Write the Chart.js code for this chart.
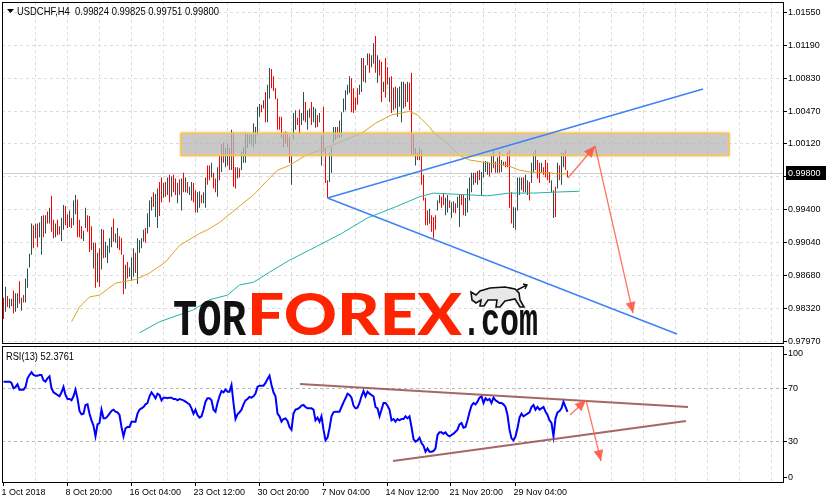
<!DOCTYPE html>
<html>
<head>
<meta charset="utf-8">
<title>USDCHF H4</title>
<script src="https://cdn.jsdelivr.net/npm/chart.js@4.4.1/dist/chart.umd.min.js"></script>
<style>
  html, body { margin: 0; padding: 0; background: #fff; }
  #wrap { position: relative; width: 826px; height: 504px; overflow: hidden; }
  canvas { position: absolute; left: 0; }
  #main { top: 0; }
  #rsi { top: 344px; }
  svg { position: absolute; left: 0; top: 0; pointer-events: none; }
</style>
</head>
<body>
<div id="wrap">
  <canvas id="main" width="826" height="344"></canvas>
  <canvas id="rsi" width="826" height="160"></canvas>
  <svg width="826" height="504" xmlns="http://www.w3.org/2000/svg">
    <polygon points="7,9 14,9 10.5,13" fill="#000"/>
    <text id="hdr" x="17" y="14.5" font-size="11" fill="#000" style="white-space:pre" textLength="202" lengthAdjust="spacingAndGlyphs">USDCHF,H4  0.99824 0.99825 0.99751 0.99800</text>
    <text id="rsihdr" x="6" y="359.5" font-size="11" fill="#000" textLength="68" lengthAdjust="spacingAndGlyphs">RSI(13) 52.3761</text>
    <g id="wm">
      <text x="173" y="335" font-family="Liberation Mono, DejaVu Sans Mono, monospace" font-weight="bold" font-size="52" fill="#111" textLength="73" lengthAdjust="spacingAndGlyphs">TOR</text>
      <text x="247" y="335" font-family="Lato, Roboto, Inter, sans-serif" font-weight="900" font-size="58" fill="#ff2400" textLength="215" lengthAdjust="spacingAndGlyphs">FOREX</text>
      <text x="462" y="335" font-family="Liberation Mono, DejaVu Sans Mono, monospace" font-weight="bold" font-size="46" fill="#111" textLength="76" lengthAdjust="spacingAndGlyphs">.com</text>
      <path d="M471,292 L476,295 L480,291 L490,288 L505,287 L515,289 L519,293 L520,300 L524,307 L520,307 L515,299 L505,301 L500,307 L496,307 L497,300 L488,300 L484,306 L480,306 L481,300 L476,303 L472,300 Z" fill="#e8e8e8" stroke="#111" stroke-width="1.6"/>
      <path d="M517,290 L527,285 M523,284 L527,285 L525,289" fill="none" stroke="#111" stroke-width="1.4"/>
    </g>
  </svg>
</div>
<script>
// USDCHF H4 bars, 1 Oct 2018 12:00 onward (index = bar number)
const highs = [0.9844,0.9856,0.9846,0.9843,0.9843,0.9852,0.9849,0.9849,0.9862,0.9844,
0.9847,0.9865,0.9876,0.9892,0.9925,0.9923,0.9925,0.9925,0.9926,0.9933,
0.9934,0.9934,0.9938,0.9942,0.9955,0.9929,0.9925,0.9929,0.9922,0.9931,
0.9945,0.9944,0.9935,0.9939,0.9931,0.9950,0.9956,0.9951,0.9929,0.9922,
0.9917,0.9942,0.9934,0.9933,0.9922,0.9904,0.9904,0.9893,0.9898,0.9919,
0.9918,0.9905,0.9901,0.9909,0.9921,0.9930,0.9914,0.9920,0.9911,0.9909,
0.9891,0.9880,0.9883,0.9877,0.9888,0.9898,0.9893,0.9909,0.9907,0.9909,
0.9918,0.9920,0.9936,0.9950,0.9954,0.9959,0.9957,0.9963,0.9970,0.9975,
0.9969,0.9970,0.9975,0.9978,0.9976,0.9978,0.9974,0.9969,0.9973,0.9974,
0.9980,0.9975,0.9970,0.9965,0.9970,0.9969,0.9961,0.9959,0.9960,0.9956,
0.9959,0.9975,0.9988,0.9988,0.9991,0.9980,0.9974,0.9986,0.9999,1.0011,
1.0013,1.0007,1.0012,1.0007,1.0027,1.0024,0.9986,0.9986,0.9985,1.0003,
1.0008,1.0024,1.0023,1.0022,1.0023,1.0034,1.0030,1.0052,1.0055,1.0054,
1.0059,1.0068,1.0076,1.0094,1.0093,1.0085,1.0072,1.0061,1.0041,1.0041,
1.0024,1.0025,1.0024,1.0019,0.9999,1.0045,1.0048,1.0040,1.0049,1.0045,
1.0068,1.0057,1.0048,1.0050,1.0057,1.0052,1.0050,1.0043,1.0045,1.0021,
1.0052,1.0007,0.9972,1.0002,1.0008,1.0030,1.0030,1.0030,1.0037,1.0046,
1.0061,1.0070,1.0076,1.0085,1.0083,1.0072,1.0062,1.0072,1.0076,1.0105,
1.0105,1.0097,1.0110,1.0110,1.0108,1.0121,1.0129,1.0108,1.0103,1.0101,
1.0079,1.0105,1.0095,1.0084,1.0085,1.0073,1.0074,1.0072,1.0074,1.0079,
1.0079,1.0077,1.0079,1.0078,1.0089,1.0023,1.0007,1.0002,1.0007,1.0005,
0.9978,0.9953,0.9939,0.9941,0.9934,0.9932,0.9934,0.9950,0.9956,0.9954,
0.9958,0.9953,0.9956,0.9950,0.9948,0.9949,0.9947,0.9954,0.9956,0.9956,
0.9956,0.9953,0.9963,0.9975,0.9980,0.9980,0.9980,0.9982,0.9983,0.9981,
0.9992,0.9993,0.9992,0.9991,0.9999,1.0005,0.9992,0.9997,1.0003,0.9994,
0.9992,0.9992,1.0003,1.0005,0.9959,0.9943,0.9942,0.9975,0.9975,0.9975,
0.9975,0.9978,0.9972,0.9970,0.9991,1.0002,1.0005,0.9994,0.9991,0.9991,
0.9986,0.9994,0.9991,0.9981,0.9972,0.9961,0.9965,0.9991,0.9988,1.0002,
1.0002,1.0005,0.99825];
const lows = [0.9821,0.9829,0.9834,0.9833,0.9835,0.9827,0.9829,0.9833,0.9838,0.9830,
0.9839,0.9839,0.9855,0.9877,0.9891,0.9898,0.9909,0.9899,0.9910,0.9891,
0.9910,0.9914,0.9925,0.9925,0.9916,0.9909,0.9910,0.9912,0.9913,0.9906,
0.9918,0.9923,0.9920,0.9921,0.9920,0.9923,0.9935,0.9910,0.9910,0.9908,
0.9906,0.9920,0.9916,0.9894,0.9896,0.9876,0.9855,0.9861,0.9856,0.9875,
0.9887,0.9888,0.9882,0.9893,0.9899,0.9905,0.9904,0.9898,0.9896,0.9891,
0.9848,0.9854,0.9865,0.9867,0.9863,0.9867,0.9871,0.9859,0.9893,0.9898,
0.9905,0.9904,0.9914,0.9921,0.9939,0.9943,0.9932,0.9920,0.9933,0.9948,
0.9953,0.9954,0.9956,0.9948,0.9954,0.9959,0.9956,0.9947,0.9956,0.9939,
0.9959,0.9959,0.9958,0.9956,0.9950,0.9948,0.9937,0.9937,0.9942,0.9947,
0.9947,0.9942,0.9967,0.9972,0.9975,0.9963,0.9959,0.9954,0.9972,0.9981,
0.9991,0.9986,0.9988,0.9983,0.9983,0.9965,0.9963,0.9974,0.9975,0.9983,
0.9991,0.9991,1.0007,1.0012,1.0010,1.0008,1.0012,1.0021,1.0041,1.0046,
1.0050,1.0035,1.0035,1.0061,1.0072,1.0069,1.0060,1.0027,1.0027,1.0018,
1.0008,1.0012,1.0008,0.9991,0.9967,1.0016,1.0027,1.0032,1.0023,1.0032,
1.0037,1.0035,1.0027,1.0040,1.0032,1.0035,1.0029,1.0030,1.0035,0.9988,
1.0003,0.9969,0.9953,0.9970,0.9980,1.0013,1.0016,1.0018,1.0018,1.0019,
1.0046,1.0048,1.0065,1.0067,1.0046,1.0045,1.0048,1.0054,1.0065,1.0068,
1.0079,1.0078,1.0097,1.0089,1.0095,1.0099,1.0089,1.0078,1.0086,1.0057,
1.0068,1.0062,1.0076,1.0057,1.0045,1.0048,1.0050,1.0041,1.0052,1.0035,
1.0050,1.0052,1.0057,1.0048,0.9999,0.9999,0.9988,0.9994,0.9994,0.9967,
0.9950,0.9923,0.9923,0.9925,0.9916,0.9909,0.9918,0.9939,0.9947,0.9942,
0.9945,0.9934,0.9937,0.9942,0.9931,0.9937,0.9936,0.9942,0.9921,0.9945,
0.9934,0.9933,0.9937,0.9950,0.9959,0.9967,0.9969,0.9967,0.9972,0.9956,
0.9975,0.9981,0.9978,0.9976,0.9980,0.9985,0.9980,0.9980,0.9980,0.9981,
0.9988,0.9986,0.9986,0.9942,0.9925,0.9920,0.9918,0.9939,0.9956,0.9961,
0.9959,0.9959,0.9956,0.9950,0.9969,0.9980,0.9983,0.9974,0.9969,0.9980,
0.9978,0.9975,0.9972,0.9969,0.9959,0.9931,0.9932,0.9963,0.9972,0.9967,
0.9986,0.9983,0.99751];
// 1 = bar closed up (dark), 0 = closed down (red)
const bull = [0,1,0,1,1,0,1,1,0,1, 0,1,1,1,1,0,1,0,1,1, 0,1,0,1,0,0,1,0,0,1, 1,0,0,1,0,1,1,0,0,0,
1,1,0,0,0,1,0,1,0,1, 0,1,1,1,1,0,1,1,0,0, 0,1,0,1,1,1,0,1,1,1, 1,0,1,1,1,0,1,1,0,0,
1,0,1,0,1,0,0,1,0,1, 0,1,0,1,1,0,0,1,1,0, 1,1,0,0,1,0,0,1,0,1, 0,1,1,0,1,0,0,1,0,1,
1,1,1,1,1,1,1,1,1,0, 1,0,1,1,0,0,0,0,0,0, 1,0,0,0,1,1,1,0,0,1, 1,0,1,1,0,1,1,0,1,1,
0,0,0,1,1,1,1,0,1,1, 1,1,1,1,0,0,0,0,1,1, 0,1,1,0,1,1,0,1,0,0, 1,0,0,1,0,1,0,1,1,1,
1,0,1,0,0,0,1,0,1,0, 0,0,0,1,0,0,0,1,1,0, 0,1,1,0,1,1,0,1,1,0, 0,1,1,1,1,1,0,1,0,1,
1,1,1,0,1,1,0,1,0,1, 1,0,0,0,0,1,1,1,1,1, 0,1,1,0,1,1,1,0,0,1, 0,0,0,0,1,1,0,1,0,1, 1,0,0];
// RSI(13), one value per bar
const rsi = [75,75,75,75,74,70,71,73,69,69, 69,71,77.5,80,82,80,79.5,79.5,80,80,
76,75,77.5,79,70,67,66,65,64,67, 71,65,62,62,61,64,69,62.5,53,50.5,
51,57.5,58,51,46,42,34,43,44,54, 47.5,47.5,49,51,53,54,52.5,52,50,41,
34,40,41,41,45,45,45,51,54,55, 56,58,59,64,67,65,62.5,66,65,61,
63,63,62.5,63,63,62,62,61,62,61.5, 61,60,59,58,55,51,54,50,48,49,
54,60,62.5,62.5,61,54,52.5,59,64,68, 67,69,67.5,67.5,72.5,59,47,50.5,52,54,
58,61,62,63.5,63,64,66,71,72,72, 72,74,77,79.5,72.5,67,64,51,49,45,
47,47.5,45.5,41,39,51,54,54.5,55.5,57, 57.5,56,55,55,55,54,46,48,45,49,
39,31,33,40,49,52,52.5,52.5,52.5,56, 59.5,62.5,66,65,63,57,55,55.5,59,64,
68,64,67.5,66,65,64,56,55,49,54, 59,59,57,54,46,47,45,47,46,47,
47,49,47.5,49,41,32,30,31,33,29, 27,22.5,25,22.5,22.5,23,25,35,37,37,
36,37,35,34,35,36,37.5,39,43,44, 40.5,41,46,52,57,59,58,60,63,64,
59,62.5,61,62,59,63,61,60,59,59, 58,56,50,39,32.5,31,34,40,48,51,
49,50,51,52,56,57.5,54,56,54,55, 56,52.5,50,46,44,34,47.5,52,53,55,
60,56,52.4];

// moving averages (bar index, price)
const maFastBar = [34,38,43,48,56,61,66,73,81,88,98,102,108,117,125,132,137,143,151,161,171,179,186,194,203,207,213,215,222,228,233,242,252,258,263,273,277,282];
const maFast = [0.9818,0.9834,0.9845,0.9847,0.9860,0.9862,0.9864,0.9871,0.9883,0.9901,0.9914,0.9918,0.9926,0.9942,0.9956,0.9972,0.9983,0.9988,0.9999,1.0007,1.0016,1.0023,1.0034,1.0043,1.0047,1.0043,1.0030,1.0024,1.0012,0.9999,0.9994,0.9991,0.9988,0.9983,0.9981,0.9980,0.9979,0.9979];
const maSlowBar = [68,78,95,103,112,118,125,128,133,143,153,169,182,196,208,215,233,242,253,265,275,288];
const maSlow = [0.9806,0.9818,0.9831,0.9842,0.9847,0.9858,0.9861,0.9865,0.9872,0.9885,0.9896,0.9914,0.9931,0.9943,0.9954,0.9958,0.9956,0.9955,0.9958,0.9958,0.9959,0.9960];

// drawn objects
const wedgeUpBar = [162, 349.75], wedgeUp = [0.99527, 1.00713];
const wedgeDnBar = [162, 336.75], wedgeDn = [0.99527, 0.98047];
const zoneBar = [88.75, 362.75], zonePrice = [1.0023, 0.9999];
const arrowBars = [[282.25, 295.75], [295.75, 314.75]];
const arrowPrices = [[0.99744, 1.00092], [1.00092, 0.98275]];
const rsiUpBar = [148.25, 342.25], rsiUp = [73.2, 56.0];
const rsiDnBar = [194.75, 341.25], rsiDn = [15.5, 45.5];
const rsiArrowBars = [[283.25, 291.25], [291.25, 298.75]];
const rsiArrowVals = [[50, 61.2], [61.2, 15.5]];
const bidPrice = 0.99800;

// axes
const priceTicks = [1.01550,1.01190,1.00830,1.00470,1.00120,0.99760,0.99400,0.99040,0.98680,0.98320,0.97970];
const timeLabels = ['1 Oct 2018','8 Oct 20:00','16 Oct 04:00','23 Oct 12:00','30 Oct 20:00','7 Nov 04:00','14 Nov 12:00','21 Nov 20:00','29 Nov 04:00'];
const rsiLevels = [0, 30, 70, 100];
const gridBars = [];
for (let j = 0; j <= 24; j++) gridBars.push(16 * j - 0.25);

function hasFont(f) {
  const c = document.createElement('canvas').getContext('2d');
  c.font = '20px monospace';
  const a = c.measureText('0.99824 USDCHF Oct').width;
  c.font = '20px "' + f + '", monospace';
  return c.measureText('0.99824 USDCHF Oct').width !== a;
}
const narrow = hasFont('Liberation Sans Narrow');
const axisFont = narrow ? { family: '"Liberation Sans Narrow"', size: 11 } : { family: '"Liberation Sans"', size: 9 };
document.getElementById('hdr').setAttribute('font-family', narrow ? 'Liberation Sans Narrow' : 'Liberation Sans');
document.getElementById('rsihdr').setAttribute('font-family', narrow ? 'Liberation Sans Narrow' : 'Liberation Sans');

const gridGray = '#dcdcdc';
const xMin = -0.75, xMax = 389.75;

function seg(xs, ys) { return xs.map((x, i) => ({ x: x, y: ys[i] })); }

function arrowHead(ctx, x0, y0, x1, y1, color) {
  const a = Math.atan2(y1 - y0, x1 - x0), len = 11, wid = 5;
  ctx.save();
  ctx.fillStyle = color;
  ctx.beginPath();
  ctx.moveTo(x1, y1);
  ctx.lineTo(x1 - len * Math.cos(a) + wid * Math.sin(a), y1 - len * Math.sin(a) - wid * Math.cos(a));
  ctx.lineTo(x1 - len * Math.cos(a) - wid * Math.sin(a), y1 - len * Math.sin(a) + wid * Math.cos(a));
  ctx.closePath();
  ctx.fill();
  ctx.restore();
}

const framePlugin = {
  id: 'frame',
  afterDraw(chart) {
    const a = chart.chartArea, ctx = chart.ctx;
    ctx.save();
    ctx.strokeStyle = '#000';
    ctx.lineWidth = 1;
    ctx.strokeRect(a.left + 0.5, a.top + 0.5, a.right - a.left, a.bottom - a.top);
    ctx.restore();
  }
};

const mainPlugin = {
  id: 'mainExtras',
  beforeDatasetsDraw(chart) {
    const ctx = chart.ctx, y = chart.scales.y, a = chart.chartArea;
    const py = Math.round(y.getPixelForValue(bidPrice)) + 0.5;
    ctx.save();
    ctx.strokeStyle = '#d0d0d0';
    ctx.beginPath(); ctx.moveTo(a.left, py); ctx.lineTo(a.right, py); ctx.stroke();
    ctx.restore();
  },
  afterDatasetDraw(chart, args) {
    if (chart.data.datasets[args.index].id !== 'maFast') return;
    const ctx = chart.ctx, x = chart.scales.x, y = chart.scales.y;
    const l = x.getPixelForValue(zoneBar[0]), r = x.getPixelForValue(zoneBar[1]);
    const t = y.getPixelForValue(zonePrice[0]), b = y.getPixelForValue(zonePrice[1]);
    ctx.save();
    ctx.shadowColor = 'rgba(0,0,0,0.25)';
    ctx.shadowBlur = 4;
    ctx.fillStyle = 'rgba(196,196,196,0.72)';
    ctx.fillRect(l, t, r - l, b - t);
    ctx.shadowBlur = 2;
    ctx.shadowColor = 'rgba(240,190,80,0.6)';
    ctx.strokeStyle = '#f3c45a';
    ctx.lineWidth = 1.5;
    ctx.strokeRect(l, t, r - l, b - t);
    ctx.restore();
  },
  afterDatasetsDraw(chart) {
    const ctx = chart.ctx, x = chart.scales.x, y = chart.scales.y;
    arrowBars.forEach((bx, i) => {
      arrowHead(ctx, x.getPixelForValue(bx[0]), y.getPixelForValue(arrowPrices[i][0]),
        x.getPixelForValue(bx[1]), y.getPixelForValue(arrowPrices[i][1]), 'rgba(255,90,70,0.9)');
    });
  },
  afterDraw(chart) {
    const ctx = chart.ctx, y = chart.scales.y, a = chart.chartArea;
    const py = Math.round(y.getPixelForValue(bidPrice));
    ctx.save();
    ctx.fillStyle = '#000';
    ctx.fillRect(a.right + 3, py - 7, 826 - a.right - 3, 14);
    ctx.fillStyle = '#fff';
    ctx.font = axisFont.size + 'px ' + axisFont.family;
    ctx.textBaseline = 'middle';
    ctx.fillText(bidPrice.toFixed(5), a.right + 5, py + 0.5);
    ctx.restore();
  }
};

const rsiPlugin = {
  id: 'rsiExtras',
  afterDatasetsDraw(chart) {
    const ctx = chart.ctx, x = chart.scales.x, y = chart.scales.y;
    rsiArrowBars.forEach((bx, i) => {
      arrowHead(ctx, x.getPixelForValue(bx[0]), y.getPixelForValue(rsiArrowVals[i][0]),
        x.getPixelForValue(bx[1]), y.getPixelForValue(rsiArrowVals[i][1]), 'rgba(255,90,70,0.9)');
    });
  }
};

function xScale(showLabels) {
  return {
    type: 'linear', min: xMin, max: xMax, offset: false,
    afterBuildTicks: s => { s.ticks = gridBars.map(v => ({ value: v })); },
    afterFit: s => { s.height = showLabels ? 22 : 0; s.paddingLeft = 0; s.paddingRight = 0; },
    ticks: {
      display: showLabels, autoSkip: false, maxRotation: 0, align: 'start', padding: 1, labelOffset: -1.5,
      color: '#000', font: axisFont,
      callback: (v, i) => (i % 2 === 0 && timeLabels[i / 2]) ? timeLabels[i / 2] : ''
    },
    grid: {
      offset: false,
      color: c => c.index === 0 ? 'rgba(0,0,0,0)' : gridGray,
      drawTicks: showLabels, tickLength: 4,
      tickColor: c => (c.index % 2 === 0 && c.index <= 16) ? '#000' : 'rgba(0,0,0,0)'
    },
    border: { display: false, dash: [3, 3] }
  };
}

Chart.defaults.font = axisFont;

new Chart(document.getElementById('main'), {
  type: 'bar',
  data: {
    datasets: [
      { id: 'wedgeUp', type: 'line', data: seg(wedgeUpBar, wedgeUp), borderColor: '#3f82f5', borderWidth: 1.5, pointRadius: 0, order: 3 },
      { id: 'wedgeDn', type: 'line', data: seg(wedgeDnBar, wedgeDn), borderColor: '#3f82f5', borderWidth: 1.5, pointRadius: 0, order: 3 },
      { id: 'arrow1', type: 'line', data: seg(arrowBars[0], arrowPrices[0]), borderColor: 'rgba(255,90,70,0.85)', borderWidth: 1.3, pointRadius: 0, order: 2 },
      { id: 'arrow2', type: 'line', data: seg(arrowBars[1], arrowPrices[1]), borderColor: 'rgba(255,90,70,0.85)', borderWidth: 1.3, pointRadius: 0, order: 2 },
      { id: 'maFast', type: 'line', data: seg(maFastBar, maFast), borderColor: '#daa520', borderWidth: 1, pointRadius: 0, order: 8 },
      { id: 'maSlow', type: 'line', data: seg(maSlowBar, maSlow), borderColor: '#20b2aa', borderWidth: 1, pointRadius: 0, order: 9 },
      { id: 'bars', type: 'bar', data: highs.map((h, i) => ({ x: i, y: [lows[i], h] })),
        backgroundColor: bull.map(b => b ? '#2f4f4f' : '#ff0000'),
        barThickness: 1, inflateAmount: 0, grouped: false, order: 10 }
    ]
  },
  options: {
    responsive: false, animation: false, devicePixelRatio: 1, events: [],
    layout: { padding: { left: 2, top: 2, right: 0, bottom: 1 } },
    plugins: { legend: { display: false }, tooltip: { enabled: false } },
    scales: {
      x: xScale(false),
      y: {
        position: 'right', min: 0.97949, max: 1.01659,
        afterBuildTicks: s => { s.ticks = priceTicks.map(v => ({ value: v })); },
        afterFit: s => { s.width = 43; s.paddingTop = 0; s.paddingBottom = 0; },
        ticks: { color: '#000', font: axisFont, padding: 1, callback: v => v.toFixed(5) },
        grid: { color: gridGray, tickColor: '#000', tickLength: 4 },
        border: { display: false, dash: [3, 3] }
      }
    }
  },
  plugins: [mainPlugin, framePlugin]
});

new Chart(document.getElementById('rsi'), {
  type: 'line',
  data: {
    datasets: [
      { id: 'rsiUp', data: seg(rsiUpBar, rsiUp), borderColor: 'rgba(150,75,75,0.85)', borderWidth: 2, pointRadius: 0, order: 2 },
      { id: 'rsiDn', data: seg(rsiDnBar, rsiDn), borderColor: 'rgba(150,75,75,0.85)', borderWidth: 2, pointRadius: 0, order: 2 },
      { id: 'rsiAr1', data: seg(rsiArrowBars[0], rsiArrowVals[0]), borderColor: 'rgba(255,90,70,0.85)', borderWidth: 1.3, pointRadius: 0, order: 1 },
      { id: 'rsiAr2', data: seg(rsiArrowBars[1], rsiArrowVals[1]), borderColor: 'rgba(255,90,70,0.85)', borderWidth: 1.3, pointRadius: 0, order: 1 },
      { id: 'rsi', data: rsi.map((v, i) => ({ x: i, y: v })), borderColor: '#0000ff', borderWidth: 2, pointRadius: 0, order: 3 }
    ]
  },
  options: {
    responsive: false, animation: false, devicePixelRatio: 1, events: [],
    layout: { padding: { left: 2, top: 2, right: 0, bottom: 0 } },
    plugins: { legend: { display: false }, tooltip: { enabled: false } },
    scales: {
      x: xScale(true),
      y: {
        position: 'right', min: -0.2, max: 101.7,
        afterBuildTicks: s => { s.ticks = rsiLevels.map(v => ({ value: Math.min(Math.max(v, 3.5), 95.7) })); },
        afterFit: s => { s.width = 43; s.paddingTop = 0; s.paddingBottom = 0; },
        ticks: { color: '#000', font: axisFont, padding: 1, callback: (v, i) => String(rsiLevels[i]) },
        grid: {
          color: c => (c.index === 1 || c.index === 2) ? '#b8b8b8' : 'rgba(0,0,0,0)',
          tickColor: '#000', tickLength: 4
        },
        border: { display: false, dash: [3, 3] }
      }
    }
  },
  plugins: [rsiPlugin, framePlugin]
});
</script>
</body>
</html>
